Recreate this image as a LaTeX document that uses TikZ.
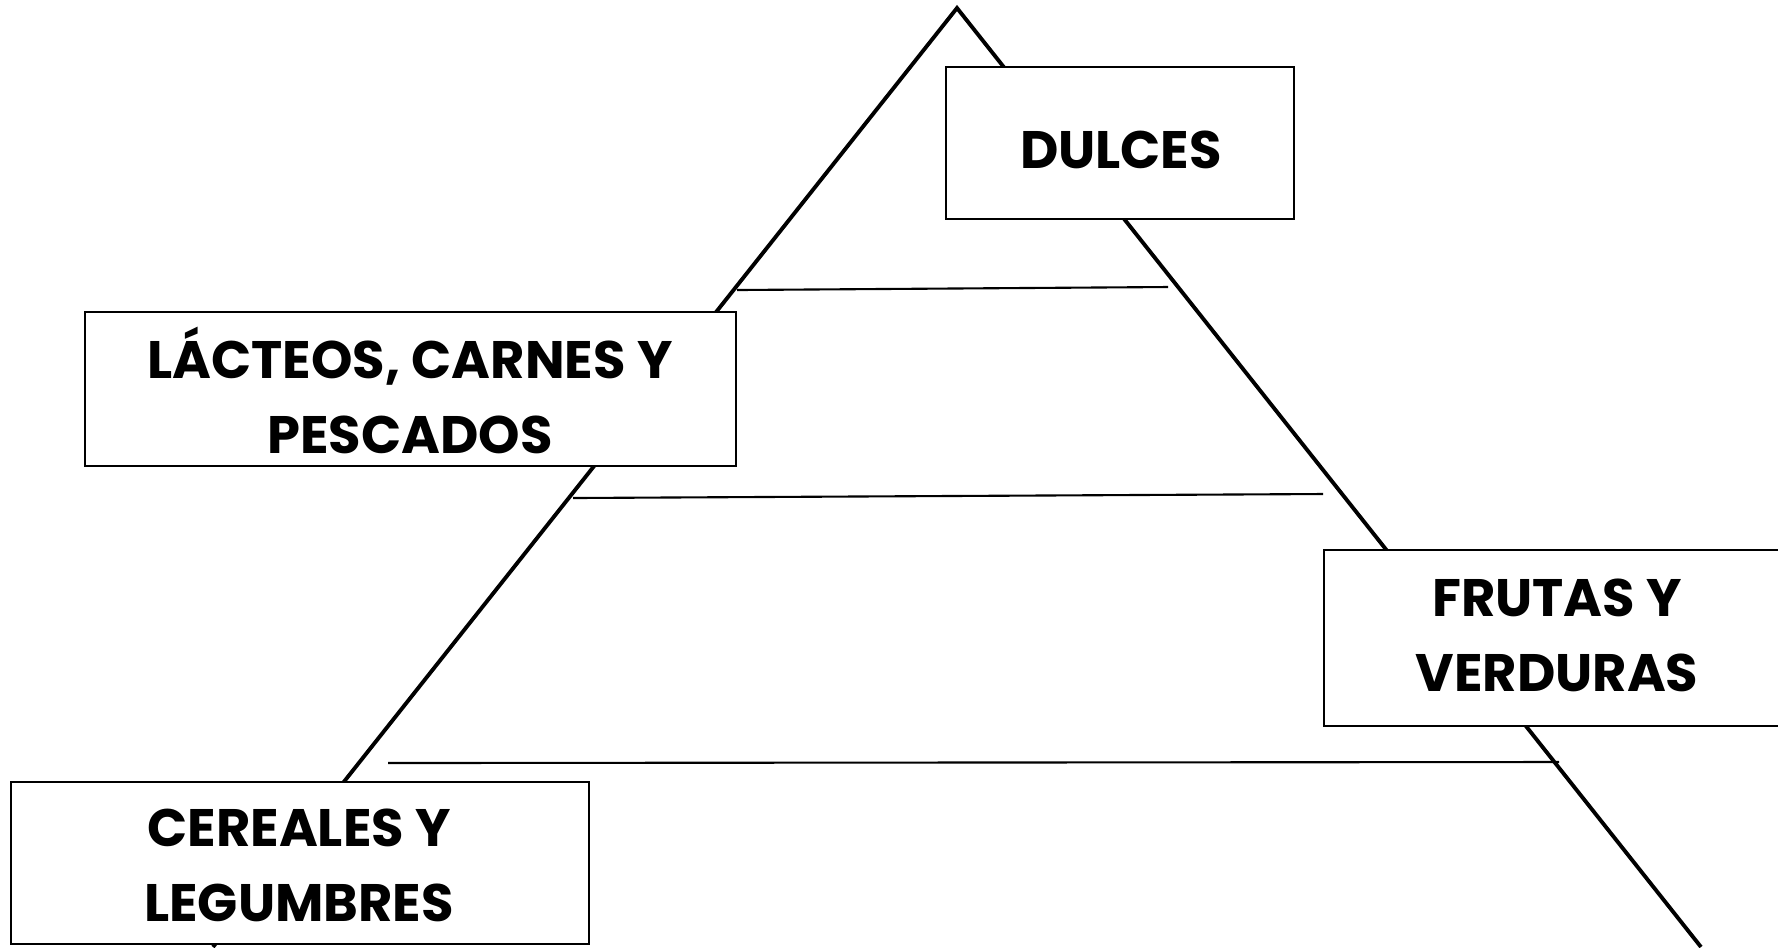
\documentclass[tikz,border=0pt]{standalone}
\usepackage{fontspec}
\setmainfont{Poppins}
\tikzset{
  side/.style={line width=1.1pt, line join=miter},
  shelf/.style={line width=0.6pt},
  foodbox/.style={draw, line width=0.6pt, fill=white, inner sep=0pt},
  foodtext/.style={inner sep=0pt, align=center,
    font=\bfseries\fontsize{15}{21.3}\selectfont}
}
\begin{document}
\begin{tikzpicture}[x=0.01cm, y=-0.01cm]
\useasboundingbox (0,0) rectangle (1778,947);
% pyramid sides
\coordinate (apex) at (957,8);
\coordinate (bl) at (213,947);
\coordinate (br) at (1701,947);
\draw[side] (bl) -- (apex) -- (br);
% shelves
\coordinate (s1a) at (737,290); \coordinate (s1b) at (1168,287);
\coordinate (s2a) at (573,498); \coordinate (s2b) at (1323,494);
\coordinate (s3a) at (388,763); \coordinate (s3b) at (1559,762);
\draw[shelf] (s1a) -- (s1b);
\draw[shelf] (s2a) -- (s2b);
\draw[shelf] (s3a) -- (s3b);
% boxes
\node[foodbox, minimum width=3.48cm, minimum height=1.52cm] (dulces) at (1120,143) {};
\node[foodbox, minimum width=6.51cm, minimum height=1.54cm] (lacteos) at (410.5,389) {};
\node[foodbox, minimum width=4.66cm, minimum height=1.76cm] (frutas) at (1557,638) {};
\node[foodbox, minimum width=5.78cm, minimum height=1.62cm] (cereales) at (300,863) {};
% labels
\node[foodtext] (dulcesT) at (1121,150) {DULCES};
\node[foodtext] (lacteosT) at (410,390) {LÁCTEOS, CARNES Y\\PESCADOS};
\node[foodtext] (frutasT) at (1557,635) {FRUTAS Y\\VERDURAS};
\node[foodtext] (cerealesT) at (299,865) {CEREALES Y\\LEGUMBRES};
\end{tikzpicture}
\end{document}
